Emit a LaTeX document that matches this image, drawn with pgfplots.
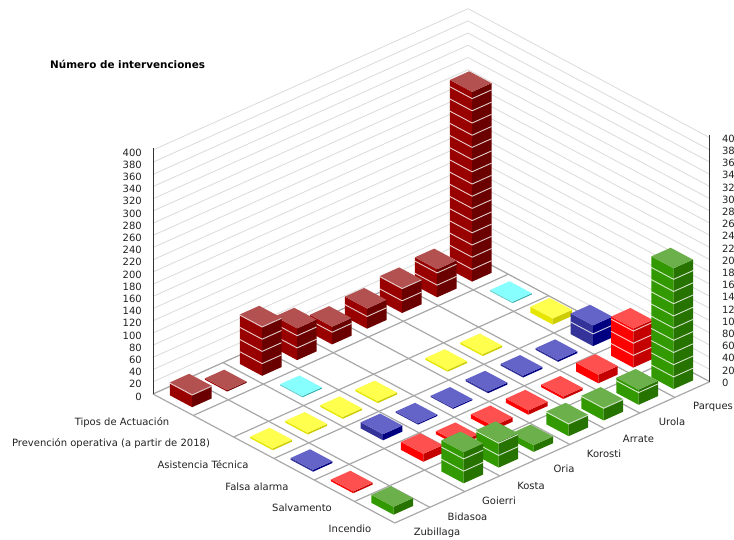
\documentclass[border=0pt]{standalone}
\usepackage{pgfplots}
\usepackage{pgfplotstable}
\usepackage{fontspec}
\pgfplotsset{compat=1.18}
\setmainfont{DejaVu Sans}

% one row per type of intervention, one column per park; 0 = no bar
\pgfplotstableread{
row c0 c1 c2 c3 c4 c5 c6 c7 c8
0   21 2  81 52 29 33 41 46 311
1   0  0  2  0  0  0  0  0  2
2   3  3  3  3  0  3  3  0  10
3   3  0  10 2  2  3  3  3  34
4   3  0  13 5  7  7  4  14 64
5   13 0  51 42 11 21 21 25 198
}\datatable

\definecolor{c0l}{HTML}{990000}\definecolor{c0r}{HTML}{6B0000}\definecolor{c0t}{HTML}{B35050}
\definecolor{c1l}{HTML}{66CCCC}\definecolor{c1r}{HTML}{33AAAA}\definecolor{c1t}{HTML}{88FFFF}
\definecolor{c2l}{HTML}{E6E600}\definecolor{c2r}{HTML}{CCCC00}\definecolor{c2t}{HTML}{FFFF4D}
\definecolor{c3l}{HTML}{333399}\definecolor{c3r}{HTML}{000080}\definecolor{c3t}{HTML}{6464C8}
\definecolor{c4l}{HTML}{FF0000}\definecolor{c4r}{HTML}{C40000}\definecolor{c4t}{HTML}{FF5050}
\definecolor{c5l}{HTML}{339900}\definecolor{c5r}{HTML}{267300}\definecolor{c5t}{HTML}{6BB04B}
\definecolor{wallgray}{HTML}{DADADA}
\definecolor{floorgray}{HTML}{A8A8A8}
\definecolor{axisgray}{HTML}{333333}
\definecolor{txt}{HTML}{222222}

\newcommand{\lab}[3]{\node[text=txt,font=\fontsize{10}{12}\selectfont,anchor=center,inner sep=0pt] at (#1pt,540pt-#2pt) {#3};}

\begin{document}
\begin{tikzpicture}
\useasboundingbox (0,0) rectangle (734pt,540pt);
\begin{axis}[
  at={(153pt,146pt)}, anchor=origin,
  x={(35pt,15.7pt)}, y={(40.3pt,-21.5pt)}, z={(0pt,0.61pt)},
  xmin=0, xmax=9, ymin=0, ymax=6, zmin=0, zmax=404,
  hide axis, clip=false,
]
% back walls
\pgfplotsinvokeforeach{0,20,...,400}{
  \addplot3[draw=wallgray,line width=0.8pt] coordinates {(0,0,#1) (9,0,#1) (9,6,#1)};
  \node[anchor=east,text=txt,font=\fontsize{10}{12}\selectfont,inner sep=0pt] at (axis cs:0,0,#1) [xshift=-11pt,yshift=-2.5pt] {#1};
  \node[anchor=west,text=txt,font=\fontsize{10}{12}\selectfont,inner sep=0pt] at (axis cs:9,6,#1) [xshift=12pt,yshift=-1pt] {#1};
}
% floor
\pgfplotsinvokeforeach{0,...,9}{
  \addplot3[draw=floorgray,line width=1.2pt] coordinates {(#1,0,0) (#1,6,0)};
}
\pgfplotsinvokeforeach{0,...,6}{
  \addplot3[draw=floorgray,line width=1.2pt] coordinates {(0,#1,0) (9,#1,0)};
}
% z axes
\addplot3[draw=axisgray,line width=1pt] coordinates {(0,0,0) (0,0,404)};
\addplot3[draw=axisgray,line width=1pt] coordinates {(9,6,0) (9,6,404)};
% bars, back to front
\pgfplotsforeachungrouped \rowidx in {0,...,5}{
  \pgfplotsforeachungrouped \colidx in {8,7,...,0}{
    \pgfplotstablegetelem{\rowidx}{c\colidx}\of\datatable
    \edef\val{\pgfplotsretval}
    \ifdim\val pt>0pt
      \pgfmathsetmacro\xa{\colidx+0.223}
      \pgfmathsetmacro\xb{\colidx+0.777}
      \pgfmathsetmacro\ya{\rowidx+0.223}
      \pgfmathsetmacro\yb{\rowidx+0.777}
      \edef\temp{\noexpand\addplot3[fill=c\rowidx l,draw=none] coordinates {(\xa,\ya,0) (\xa,\yb,0) (\xa,\yb,\val) (\xa,\ya,\val)};}\temp
      \edef\temp{\noexpand\addplot3[fill=c\rowidx r,draw=none] coordinates {(\xa,\yb,0) (\xb,\yb,0) (\xb,\yb,\val) (\xa,\yb,\val)};}\temp
      \edef\temp{\noexpand\addplot3[fill=c\rowidx t,draw=none] coordinates {(\xa,\ya,\val) (\xa,\yb,\val) (\xb,\yb,\val) (\xb,\ya,\val)};}\temp
      \pgfplotsforeachungrouped \k in {20,40,...,380}{
        \ifdim\k pt<\val pt
          \edef\temp{\noexpand\addplot3[draw=white,draw opacity=0.8,line width=0.9pt] coordinates {(\xa,\ya,\k) (\xa,\yb,\k) (\xb,\yb,\k)};}\temp
        \fi
      }
    \fi
  }
}
\end{axis}
\node[anchor=west,inner sep=0pt,text=black,font=\fontsize{10.4}{12}\selectfont\bfseries] at (50pt,540pt-64pt) {Número de intervenciones};
\lab{122}{423}{Tipos de Actuación}
\lab{111}{444}{Prevención operativa (a partir de 2018)}
\lab{203}{465}{Asistencia Técnica}
\lab{257}{487}{Falsa alarma}
\lab{302}{508}{Salvamento}
\lab{350}{529}{Incendio}
\lab{437}{533}{Zubillaga}
\lab{467.5}{517}{Bidasoa}
\lab{499}{501}{Goierri}
\lab{531}{486}{Kosta}
\lab{564}{469}{Oria}
\lab{604}{454}{Korosti}
\lab{638.5}{439}{Arrate}
\lab{672}{422}{Urola}
\node[anchor=west,inner sep=0pt,text=txt,font=\fontsize{10}{12}\selectfont] at (693pt,540pt-407pt) {Parques};
\end{tikzpicture}
\end{document}
